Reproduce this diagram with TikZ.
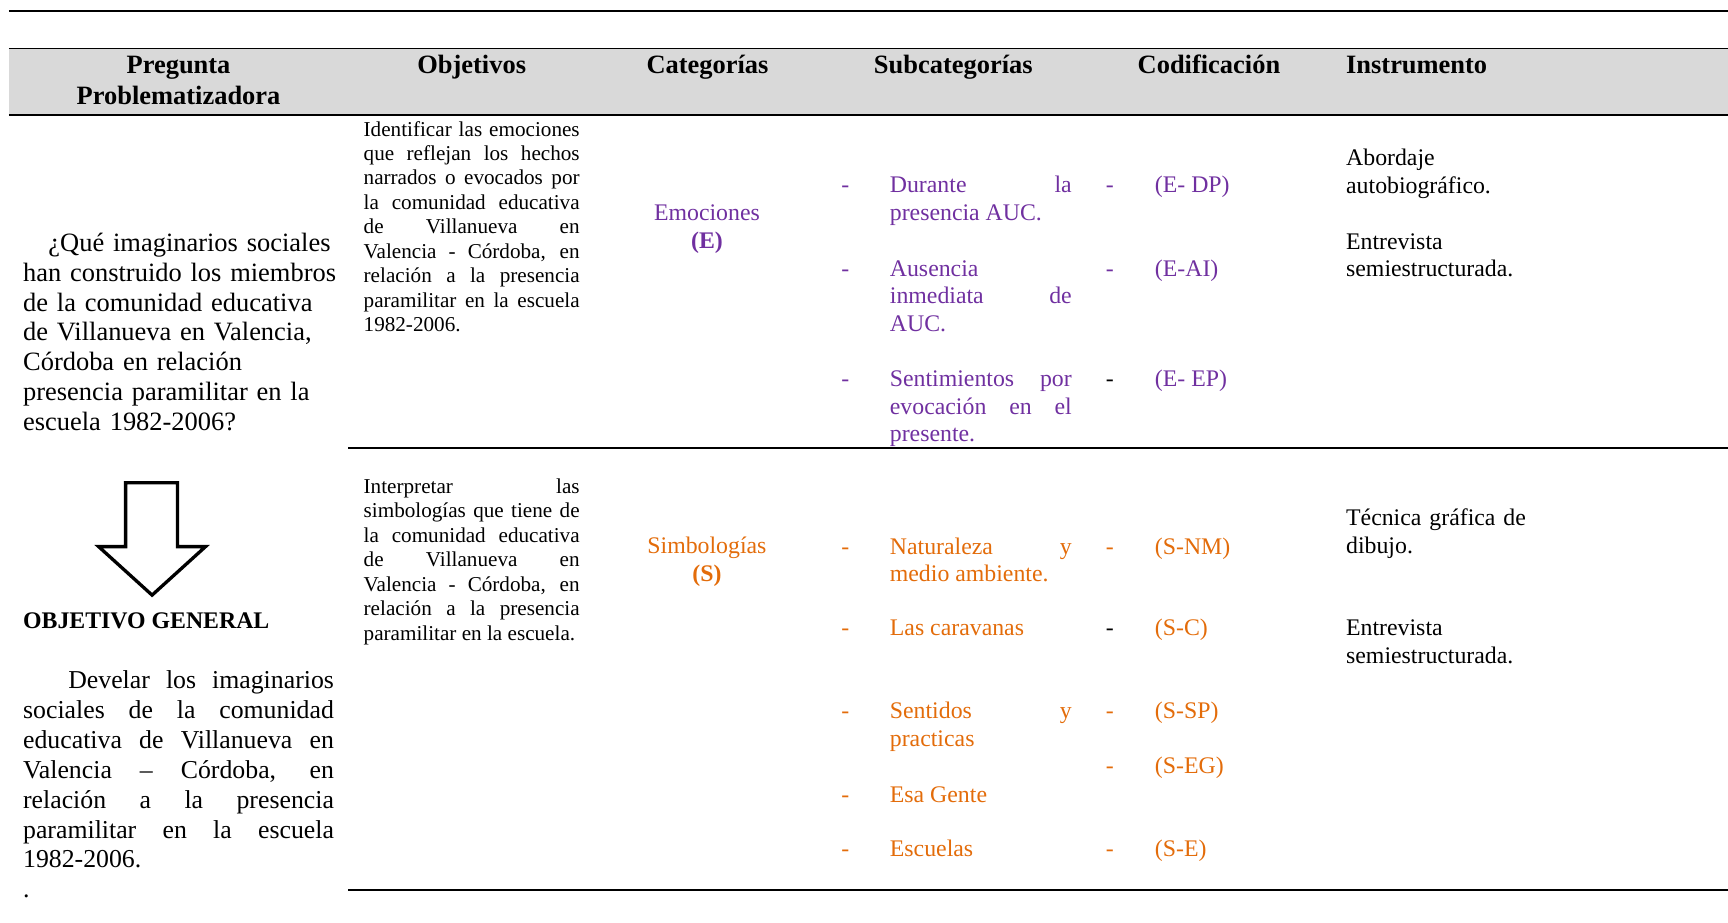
\documentclass[tikz,border=0pt]{standalone}
\usepackage{fontspec}
\setmainfont{Liberation Serif}
\definecolor{emocion}{HTML}{7030A0}
\definecolor{simbolo}{HTML}{E36C0A}
\definecolor{cabecera}{HTML}{D9D9D9}

\begin{document}
\begin{tikzpicture}
[x=0.5pt,y=-0.5pt,
every node/.style={inner sep=0pt,outer sep=0pt},
regla/.style={line width=0.9pt},
cab/.style={font=\bfseries\fontsize{12}{14}\selectfont,anchor=base,text width=120pt,align=center},
pregunta/.style={font=\fontsize{12}{13.55}\selectfont,anchor=base west,text width=141pt},
objtxt/.style={font=\fontsize{9.6}{11.1}\selectfont,anchor=base west,text width=98pt,align=justify},
cat/.style={font=\fontsize{10.8}{12.5}\selectfont,anchor=base,text width=80pt,align=center},
guion/.style={font=\fontsize{10.8}{12.5}\selectfont,anchor=base},
subcat/.style={font=\fontsize{10.8}{12.5}\selectfont,anchor=base west,text width=82.5pt,align=justify},
cod/.style={font=\fontsize{10.8}{12.5}\selectfont,anchor=base west},
instr/.style={font=\fontsize{10.8}{12.5}\selectfont,anchor=base west,text width=100pt,align=left}]
\useasboundingbox (0,0) rectangle (1568,837);
% header band
\fill[cabecera] (8,44) rectangle (1568,104);
\draw[regla] (8,10) -- (1568,10);
\draw[regla] (8,44) -- (1568,44);
\draw[regla] (8,104) -- (1568,104);
\draw[regla] (316,406.5) -- (1568,406.5);
\draw[regla] (316,808) -- (1568,808);
\node[cab] (hpreg) at (162,66.5) {Pregunta\\Problematizadora};
\node[cab] (hobj) at (428,66.5) {Objetivos};
\node[cab] (hcat) at (642,66.5) {Categorías};
\node[cab] (hsub) at (865,66.5) {Subcategorías};
\node[cab] (hcod) at (1097,66.5) {Codificación};
\node[cab,anchor=base west,align=left] (hins) at (1221.5,66.5) {Instrumento};
% left column
\node[pregunta,text width=160pt,align=left] (preg) at (21,228) {\hspace*{11.5pt}¿Qué imaginarios sociales\\han construido los miembros\\de la comunidad educativa\\de Villanueva en Valencia,\\Córdoba en relación\\presencia paramilitar en la\\escuela 1982-2006?};
\draw[line width=1.5pt,miter limit=10] (114,438) -- (161,438) -- (161,496) -- (186.5,496)
  -- (138,540) -- (89.5,496) -- (114,496) -- cycle;
\node[font=\bfseries\fontsize{10.8}{12.5}\selectfont,anchor=base west] (ogen) at (21,570) {OBJETIVO GENERAL};
\node[pregunta,font=\fontsize{11.7}{13.55}\selectfont,align=justify] (develar) at (21,625)
  {\hspace*{20.5pt}Develar los imaginarios\linebreak sociales de la comunidad\linebreak educativa de Villanueva en\linebreak Valencia – Córdoba, en\linebreak relación a la presencia\linebreak paramilitar en la escuela\linebreak 1982-2006.\newline .};
% emociones
\node[objtxt] (obj1) at (330,123.4) {Identificar las emociones\linebreak que reflejan los hechos\linebreak narrados o evocados por\linebreak la comunidad educativa\linebreak de Villanueva en\linebreak Valencia - Córdoba, en\linebreak relación a la presencia\linebreak paramilitar en la escuela\linebreak 1982-2006.};
\node[cat,text=emocion] (emo) at (641.5,200.5) {Emociones\\\textbf{(E)}};
\node[guion,text=emocion] (g1) at (767,175) {-};
\node[subcat,text=emocion] (dp) at (807.5,175) {Durante la\linebreak presencia AUC.};
\node[guion,text=emocion] (g2) at (767,250.5) {-};
\node[subcat,text=emocion] (ai) at (807.5,250.5) {Ausencia\linebreak inmediata de\linebreak AUC.};
\node[guion,text=emocion] (g3) at (767,351) {-};
\node[subcat,text=emocion] (ep) at (807.5,351) {Sentimientos por\linebreak evocación en el\linebreak presente.};
\node[guion,text=emocion] (c1) at (1007,175) {-};
\node[cod,text=emocion] (cdp) at (1048,175) {(E- DP)};
\node[guion,text=emocion] (c2) at (1007,250.5) {-};
\node[cod,text=emocion] (cai) at (1048,250.5) {(E-AI)};
\node[guion] (c3) at (1007,351) {-};
\node[cod,text=emocion] (cep) at (1048,351) {(E- EP)};
\node[instr] (auto) at (1221.5,150.5) {Abordaje\\autobiográfico.};
\node[instr] (entr1) at (1221.5,226) {Entrevista\\semiestructurada.};
% simbologias
\node[objtxt] (obj2) at (330,447.6) {Interpretar las\linebreak simbologías que tiene de\linebreak la comunidad educativa\linebreak de Villanueva en\linebreak Valencia - Córdoba, en\linebreak relación a la presencia\linebreak paramilitar en la escuela.};
\node[cat,text=simbolo] (sim) at (641.5,502.6) {Simbologías\\\textbf{(S)}};
\node[guion,text=simbolo] (g4) at (767,503) {-};
\node[subcat,text=simbolo] (nm) at (807.5,503) {Naturaleza y\linebreak medio ambiente.};
\node[guion,text=simbolo] (g5) at (767,577) {-};
\node[subcat,text=simbolo] (car) at (807.5,577) {Las caravanas};
\node[guion,text=simbolo] (g6) at (767,652) {-};
\node[subcat,text=simbolo] (sp) at (807.5,652) {Sentidos y\linebreak practicas};
\node[guion,text=simbolo] (g7) at (767,728) {-};
\node[subcat,text=simbolo] (eg) at (807.5,728) {Esa Gente};
\node[guion,text=simbolo] (g8) at (767,777.5) {-};
\node[subcat,text=simbolo] (esc) at (807.5,777.5) {Escuelas};
\node[guion,text=simbolo] (c4) at (1007,503) {-};
\node[cod,text=simbolo] (cnm) at (1048,503) {(S-NM)};
\node[guion] (c5) at (1007,577) {-};
\node[cod,text=simbolo] (cc) at (1048,577) {(S-C)};
\node[guion,text=simbolo] (c6) at (1007,652) {-};
\node[cod,text=simbolo] (csp) at (1048,652) {(S-SP)};
\node[guion,text=simbolo] (c7) at (1007,702) {-};
\node[cod,text=simbolo] (ceg) at (1048,702) {(S-EG)};
\node[guion,text=simbolo] (c8) at (1007,777.5) {-};
\node[cod,text=simbolo] (ce) at (1048,777.5) {(S-E)};
\node[instr] (graf) at (1221.5,477) {Técnica gráfica de\\dibujo.};
\node[instr] (entr2) at (1221.5,577) {Entrevista\\semiestructurada.};
\end{tikzpicture}
\end{document}
